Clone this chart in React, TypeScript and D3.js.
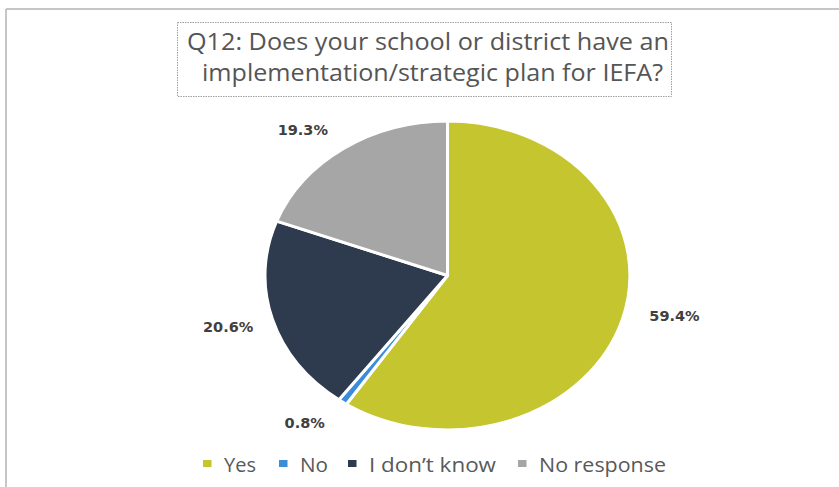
import * as d3 from 'd3';

// Survey answers, in slice order (clockwise from 12 o'clock)
const categories = ['Yes', 'No', 'I don’t know', 'No response'];
const shares = [59.4, 0.8, 20.6, 19.3];
const colors = ['#c4c52f', '#3a8dd6', '#2e3a4d', '#a6a6a6'];
const titleLines = [
  'Q12: Does your school or district have an',
  'implementation/strategic plan for IEFA?',
];

// small nudges so the labels land where Excel put them
const labelNudge: [number, number][] = [
  [14, -10],
  [-15, 5],
  [-6, 2],
  [-18, -2],
];
const legendWidths = [32, 28, 127, 127];
const legendStarts = [203, 279, 348, 518];

const W = 839;
const H = 487;
const cx = 447.5;
const cy = 275.5;
const rx = 182.5;
const ry = 154.5;

export default function App() {
  const arcs = d3
    .pie<number>()
    .sort(null)
    .value((d) => d)(shares);
  const arcGen = d3.arc<d3.PieArcDatum<number>>().innerRadius(0).outerRadius(1);

  return (
    <svg
      width={W}
      height={H}
      style={{ position: 'absolute', left: 0, top: 0, background: '#fff' }}
    >
      {/* outer chart frame (only top and left edges visible) */}
      <line x1={6} x2={W} y1={9} y2={9} stroke="#b3b3b3" strokeWidth={1.5} />
      <line x1={6} x2={6} y1={9} y2={H} stroke="#b3b3b3" strokeWidth={1.5} />

      {/* title box */}
      <rect
        x={177.5}
        y={22.5}
        width={494}
        height={74}
        fill="#fff"
        stroke="#a0a0a0"
        strokeDasharray="1.5,1"
      />
      {titleLines.map((t, i) => (
        <text
          key={t}
          x={i === 0 ? 187 : 202}
          y={i === 0 ? 50 : 80.5}
          fontFamily="'Open Sans', sans-serif"
          fontSize={23.5}
          fill="#555555"
          textLength={i === 0 ? 482 : 461}
          lengthAdjust="spacingAndGlyphs"
        >
          {t}
        </text>
      ))}

      {/* pie, drawn on a unit circle and stretched into an ellipse */}
      <g transform={`translate(${cx},${cy}) scale(${rx},${ry})`}>
        {arcs.map((a, i) => (
          <path
            key={categories[i]}
            d={arcGen(a) ?? ''}
            fill={colors[i]}
            stroke="#fff"
            strokeWidth={3}
            strokeLinejoin="round"
            vectorEffect="non-scaling-stroke"
          />
        ))}
      </g>

      {/* data labels */}
      {arcs.map((a, i) => {
        const mid = (a.startAngle + a.endAngle) / 2;
        const x = cx + (rx + 40) * Math.sin(mid) + labelNudge[i][0];
        const y = cy - (ry + 20) * Math.cos(mid) + labelNudge[i][1];
        return (
          <text
            key={`lbl-${i}`}
            x={x}
            y={y + 5}
            textAnchor="middle"
            fontFamily="'DejaVu Sans', sans-serif"
            fontWeight="bold"
            fontSize={14.5}
            fill="#404040"
          >
            {d3.format('.1f')(shares[i])}%
          </text>
        );
      })}

      {/* legend */}
      {categories.map((c, i) => (
        <g key={`lg-${c}`}>
          <rect x={legendStarts[i]} y={460} width={8.5} height={7} fill={colors[i]} />
          <text
            x={legendStarts[i] + 21}
            y={471.5}
            fontFamily="'Open Sans', sans-serif"
            fontSize={20.5}
            fill="#595959"
            textLength={legendWidths[i]}
            lengthAdjust="spacingAndGlyphs"
          >
            {c}
          </text>
        </g>
      ))}
    </svg>
  );
}
